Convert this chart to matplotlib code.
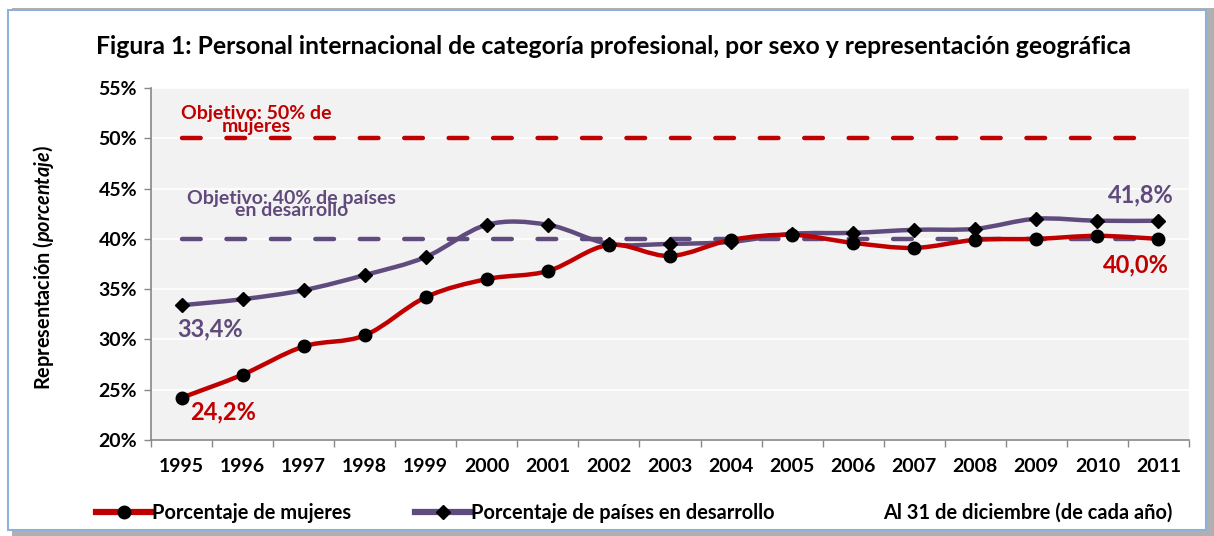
import numpy as np
import matplotlib
matplotlib.use("Agg")
import matplotlib.pyplot as plt
from matplotlib.path import Path
from matplotlib.patches import PathPatch, Rectangle
from matplotlib.lines import Line2D

plt.rcParams['font.family'] = ['Lato', 'DejaVu Sans']
plt.rcParams['mathtext.fontset'] = 'custom'
plt.rcParams['mathtext.it'] = 'Lato:italic:bold'
plt.rcParams['mathtext.rm'] = 'Lato:bold'

# datos
years = ['1995', '1996', '1997', '1998', '1999', '2000', '2001', '2002', '2003',
         '2004', '2005', '2006', '2007', '2008', '2009', '2010', '2011']
mujeres = [24.2, 26.5, 29.3, 30.4, 34.2, 36.0, 36.8, 39.4, 38.3,
           39.9, 40.4, 39.6, 39.1, 39.9, 40.0, 40.3, 40.0]
paises = [33.4, 34.0, 34.9, 36.4, 38.2, 41.4, 41.4, 39.5, 39.5,
          39.7, 40.5, 40.6, 40.9, 41.0, 42.0, 41.8, 41.8]
obj_mujeres = 50
obj_paises = 40
yticks = [20, 25, 30, 35, 40, 45, 50, 55]

red = '#c00000'
purple = '#5f4b7d'
purple_txt = '#604a7b'


def smooth_path(x, y):
    # curva suavizada tipo Excel (Catmull-Rom -> Bezier)
    p = np.column_stack([x, y]).astype(float)
    pts = np.vstack([p[0], p, p[-1]])
    verts = [p[0]]
    codes = [Path.MOVETO]
    for i in range(1, len(pts) - 2):
        c1 = pts[i] + (pts[i + 1] - pts[i - 1]) / 6
        c2 = pts[i + 1] - (pts[i + 2] - pts[i]) / 6
        verts += [c1, c2, pts[i + 1]]
        codes += [Path.CURVE4] * 3
    return Path(verts, codes)


fig = plt.figure(figsize=(12.14, 5.36), dpi=100)
W, H = 1214, 536

# marco exterior con sombra
fig.patches.append(Rectangle((12 / W, 0), (W - 12) / W, 528 / H, transform=fig.transFigure,
                             facecolor='#b0b0b0', edgecolor='none', zorder=-3))
fig.patches.append(Rectangle((8 / W, 6 / H), 1198 / W, 520 / H, transform=fig.transFigure,
                             facecolor='white', edgecolor='#8fb0d8', lw=1.5, zorder=-2))

ax = fig.add_axes([151 / W, 1 - 440 / H, (1189 - 151) / W, (440 - 88) / H])
ax.set_facecolor('#f2f2f2')
x = np.arange(len(years))
ax.set_xlim(-0.5, len(years) - 0.5)
ax.set_ylim(20, 55)

for yv in yticks:
    ax.axhline(yv, color='white', lw=1.2, zorder=1)

ax.hlines(obj_mujeres, 0, len(years) - 1, colors=red, lw=3.2, linestyles=(0, (4.2, 5.8)),
          capstyle='round', zorder=2)
ax.hlines(obj_paises, 0, len(years) - 1, colors=purple, lw=3.2, linestyles=(0, (4.2, 5.8)),
          capstyle='round', zorder=2)

ax.add_patch(PathPatch(smooth_path(x, paises), facecolor='none', edgecolor=purple, lw=3.2, zorder=3))
ax.add_patch(PathPatch(smooth_path(x, mujeres), facecolor='none', edgecolor=red, lw=3.2, zorder=4))
ax.plot(x, paises, ls='none', marker='D', ms=7, color='black', zorder=5)
ax.plot(x, mujeres, ls='none', marker='o', ms=9, color='black', zorder=6)

ax.set_yticks(yticks)
ax.set_yticklabels([f'{v}%' for v in yticks], fontsize=14, fontweight='bold')
ax.set_xticks(x)
ax.set_xticklabels(years, fontsize=14, fontweight='bold')
ax.set_xticks(np.arange(-0.5, len(years)), minor=True)
ax.tick_params(axis='x', which='major', length=0, pad=13)
ax.tick_params(axis='x', which='minor', length=5, color='#888888', width=1)
ax.tick_params(axis='y', length=5, color='#888888', width=1, pad=5)
for s in ['top', 'right']:
    ax.spines[s].set_visible(False)
for s in ['left', 'bottom']:
    ax.spines[s].set_color('#888888')
    ax.spines[s].set_linewidth(1.2)

# anotaciones
ax.text(1.23, 51.8, 'Objetivo: 50% de\nmujeres', color=red, fontsize=14, fontweight='bold',
        ha='center', va='center', linespacing=0.68, zorder=7)
ax.text(1.8, 43.4, 'Objetivo: 40% de países\nen desarrollo', color=purple_txt, fontsize=14,
        fontweight='bold', ha='center', va='center', linespacing=0.68, zorder=7)
ax.text(0.47, 31.0, '33,4%', color=purple_txt, fontsize=17, fontweight='bold', ha='center', va='center')
ax.text(0.68, 22.8, '24,2%', color=red, fontsize=17, fontweight='bold', ha='center', va='center')
ax.text(15.71, 44.35, '41,8%', color=purple_txt, fontsize=17, fontweight='bold', ha='center', va='center')
ax.text(15.63, 37.4, '40,0%', color=red, fontsize=17, fontweight='bold', ha='center', va='center')

fig.text(614 / W, 1 - 47 / H, 'Figura 1: Personal internacional de categoría profesional, por sexo y representación geográfica',
         fontsize=17.8, fontweight='bold', ha='center', va='center')
fig.text(44 / W, 1 - 268 / H, r'Representación ($\mathit{porcentaje}$)', rotation=90,
         fontsize=14.3, fontweight='bold', ha='center', va='center')

# leyenda
h1 = Line2D([], [], color=red, lw=4.5, marker='o', ms=9, mfc='black', mec='black')
h2 = Line2D([], [], color=purple, lw=4.5, marker='D', ms=7, mfc='black', mec='black')
fig.legend([h1, h2], ['Porcentaje de mujeres', 'Porcentaje de países en desarrollo'],
           loc='center left', bbox_to_anchor=(78 / W, 1 - 513 / H), ncol=2, frameon=False,
           prop={'weight': 'bold', 'size': 14.4}, handlelength=2.75,
           handletextpad=0.05, columnspacing=3.2, numpoints=1)
fig.text(1172 / W, 1 - 513 / H, 'Al 31 de diciembre (de cada año)', fontsize=14.4,
         fontweight='bold', ha='right', va='center')

fig.savefig('out.png', dpi=100)
